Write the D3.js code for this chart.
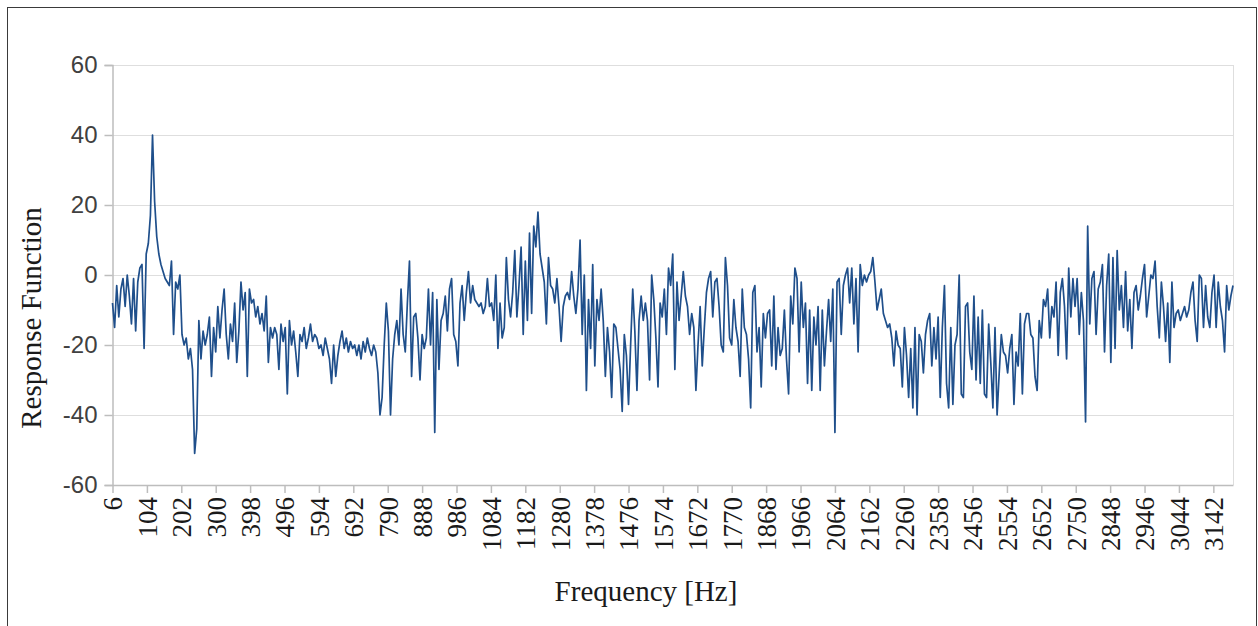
<!DOCTYPE html>
<html>
<head>
<meta charset="utf-8">
<script src="https://cdn.jsdelivr.net/npm/d3@7"></script>
<style>
  body { margin: 0; background: #fff; }
</style>
</head>
<body>
<svg id="chart" width="1258" height="626"></svg>
<script>
// Frequency bins: 6 Hz upward in steps of 6 Hz
const freqStart = 6;
const freqStep = 6;

// Response function per frequency bin
const response = [
  // 6 – 318 Hz
  -8,-15,-3,-12,-4,-1,-9,0,-6,-14,-1,-16,-2,2,3,-21,6,9,17,40,
  21,11,6,3,1,-1,-2,-3,4,-17,-2,-4,0,-17,-20,-18,-24,-21,-27,-51,
  -44,-13,-24,-16,-20,-17,-12,-29,-15,-22,-9,-18,-10,
  // 324 – 642 Hz
  -4,-17,-24,-14,-19,-8,-25,-16,-2,-10,-5,-29,-4,-8,-7,-12,-9,-14,-11,-16,
  -6,-25,-15,-18,-15,-17,-27,-14,-19,-15,-34,-13,-20,-16,-22,-29,-17,-19,-15,-21,
  -18,-14,-19,-17,-18,-21,-20,-23,-18,-21,-24,-31,-20,-29,
  // 648 – 972 Hz
  -23,-19,-16,-21,-18,-22,-19,-21,-20,-23,-20,-24,-19,-22,-18,-21,-23,-20,-22,-28,
  -40,-35,-20,-8,-16,-40,-24,-17,-13,-20,-4,-17,-22,-8,4,-29,-12,-11,-18,-30,
  -17,-21,-18,-4,-20,-5,-45,-7,-27,-13,-11,-6,-16,-4,-1,
  // 978 – 1302 Hz
  -17,-19,-26,-8,-3,-13,-5,1,-8,-3,-7,-8,-9,-8,-11,-9,-1,-9,-8,-13,
  0,-21,-8,-18,-15,5,-7,-12,-5,7,-12,-3,8,-17,4,-13,12,-11,14,8,
  18,6,2,-2,-14,5,-3,-4,-8,-1,-9,-19,-9,-6,-5,
  // 1308 – 1626 Hz
  -7,1,-6,-11,-4,10,-17,0,-33,-7,-21,3,-26,-7,-13,-4,-13,-29,-15,-22,
  -35,-14,-15,-21,-27,-39,-17,-23,-37,-20,-4,-16,-33,-13,-6,-13,-8,-13,-30,0,
  -7,-18,-32,-8,-12,-4,-17,2,-3,6,-27,-2,-13,-6,
  // 1632 – 1956 Hz
  1,-6,-9,-17,-11,-15,-33,-20,-9,-26,-15,-5,-1,1,-12,-2,-1,-9,-20,-22,
  5,-3,-18,-20,-7,-15,-19,-29,-4,-15,-17,-24,-38,-5,-3,-22,-15,-32,-11,-18,
  -11,-10,-26,-6,-27,-15,-23,-21,-10,-24,-34,-6,-14,2,-1,
  // 1962 – 2286 Hz
  -22,-2,-15,-8,-31,-10,-33,-12,-20,-9,-33,-10,-26,-16,-7,-19,-4,-45,-2,-1,
  -17,-3,0,2,-8,2,-14,-1,-22,3,-3,0,-2,0,1,5,-2,-10,-7,-4,
  -11,-13,-15,-14,-18,-26,-16,-20,-21,-32,-15,-23,-35,-21,-38,
  // 2292 – 2610 Hz
  -15,-40,-17,-19,-28,-17,-13,-11,-26,-15,-24,-12,-35,-15,-3,-31,-38,-15,-37,-20,
  -17,0,-34,-35,-9,-8,-22,-27,-6,-30,-12,-31,-10,-34,-35,-14,-25,-38,-15,-40,
  -28,-17,-22,-23,-28,-21,-17,-37,-22,-26,-11,-34,-14,-11,
  // 2616 – 2940 Hz
  -11,-17,-18,-29,-33,-13,-18,-7,-9,-4,-18,-9,-12,-2,-23,-5,-1,-9,-24,2,
  -12,-1,-9,-1,-17,-5,-13,-42,14,-14,-1,1,-17,-4,-2,3,-22,-3,6,-25,
  5,-21,7,-10,-3,-15,1,-16,-7,-21,-5,-3,-10,-6,-1,
  // 2946 – 3198 Hz
  3,-12,-6,0,-1,4,-9,-18,-2,-9,-19,-8,-25,-2,-15,-11,-10,-13,-11,-9,
  -12,-10,-5,-2,-13,-19,0,-1,-15,-3,-12,-15,-5,0,-15,-2,-9,-13,-22,-3,
  -10,-6,-3
];

const yTicks = [-60, -40, -20, 0, 20, 40, 60];
const xTickLabels = [6,104,202,300,398,496,594,692,790,888,986,1084,1182,1280,1378,
  1476,1574,1672,1770,1868,1966,2064,2162,2260,2358,2456,2554,2652,2750,2848,2946,3044,3142];

const svg = d3.select("#chart");
const plot = { left: 112.5, right: 1233, top: 65, bottom: 485 };

const freqEnd = freqStart + freqStep * (response.length - 1);
const x = d3.scaleLinear().domain([freqStart, freqEnd]).range([plot.left, plot.right]);
const y = d3.scaleLinear().domain([-60, 60]).range([plot.bottom, plot.top]);

// outer frame
svg.append("rect")
  .attr("x", 7.5).attr("y", 7.5)
  .attr("width", 1249).attr("height", 640)
  .attr("fill", "none").attr("stroke", "#3a3a3a").attr("stroke-width", 1);

// horizontal gridlines
svg.append("g")
  .selectAll("line")
  .data(yTicks.filter(v => v !== -60))
  .join("line")
  .attr("x1", plot.left).attr("x2", plot.right)
  .attr("y1", d => Math.round(y(d)) + 0.5).attr("y2", d => Math.round(y(d)) + 0.5)
  .attr("stroke", "#dedede").attr("stroke-width", 1);

// right edge of plot area
svg.append("line")
  .attr("x1", plot.right + 0.5).attr("x2", plot.right + 0.5)
  .attr("y1", plot.top).attr("y2", plot.bottom)
  .attr("stroke", "#dedede");

// y axis (plain hyphen for negative numbers)
const yAxis = d3.axisLeft(y).tickValues(yTicks).tickSize(8).tickPadding(7).tickFormat(d => String(d));
const gy = svg.append("g").attr("transform", `translate(${plot.left},0)`).call(yAxis);
gy.selectAll("path, line").attr("stroke", "#bdbdbd").attr("stroke-width", 1.5);
gy.selectAll("text")
  .attr("fill", "#404040")
  .style("font-family", "'Liberation Sans', Arial, sans-serif")
  .style("font-size", "24px");

// x axis
const xAxis = d3.axisBottom(x).tickValues(xTickLabels).tickSize(8).tickSizeOuter(0).tickFormat(d => String(d));
const gx = svg.append("g").attr("transform", `translate(0,${plot.bottom})`).call(xAxis);
gx.selectAll("path, line").attr("stroke", "#bdbdbd").attr("stroke-width", 1.5);
gx.selectAll("text")
  .attr("fill", "#1a1a1a")
  .attr("transform", "rotate(-90)")
  .attr("text-anchor", "end")
  .attr("x", -12).attr("y", 0).attr("dy", "0.35em")
  .style("font-family", "'Liberation Serif', 'Times New Roman', serif")
  .style("font-size", "27px");

// response line
const line = d3.line()
  .x((d, i) => x(freqStart + i * freqStep))
  .y(d => y(d));
svg.append("path")
  .datum(response)
  .attr("d", line)
  .attr("fill", "none")
  .attr("stroke", "#1f4f8b")
  .attr("stroke-width", 1.7)
  .attr("stroke-linejoin", "round");

// axis titles
svg.append("text")
  .attr("transform", "translate(41,318) rotate(-90)")
  .attr("text-anchor", "middle")
  .attr("fill", "#1a1a1a")
  .style("font-family", "'Liberation Serif', 'Times New Roman', serif")
  .style("font-size", "29px")
  .text("Response Function");

svg.append("text")
  .attr("x", 646).attr("y", 601)
  .attr("text-anchor", "middle")
  .attr("fill", "#1a1a1a")
  .style("font-family", "'Liberation Serif', 'Times New Roman', serif")
  .style("font-size", "29px")
  .text("Frequency [Hz]");
</script>
</body>
</html>
